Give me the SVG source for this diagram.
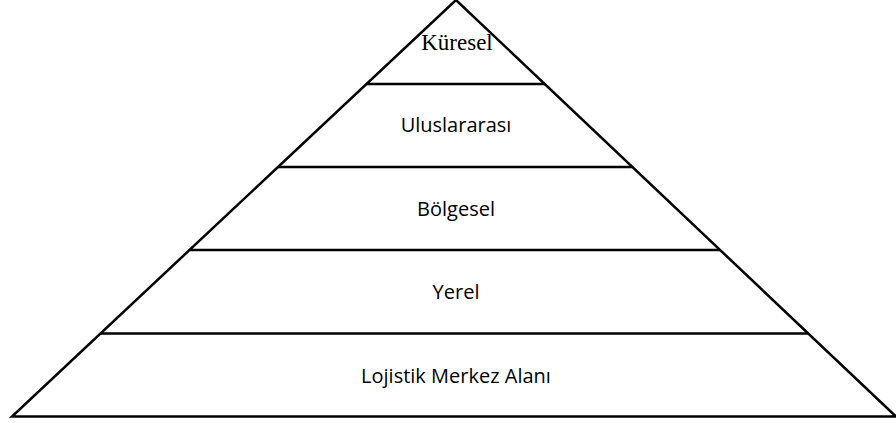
<svg xmlns="http://www.w3.org/2000/svg" width="896" height="423" viewBox="0 0 896 423">
<style>
.ln{stroke:#000;stroke-width:2.5;fill:none}
.lbl{font-family:"Open Sans","Liberation Sans",sans-serif;font-size:20px;fill:#000;text-anchor:middle}
.ser{font-family:"Liberation Serif","Times New Roman",serif;font-size:23px;fill:#000;text-anchor:middle}
</style>
<rect width="896" height="423" fill="#fff"/>
<g id="connectors">
<polygon class="ln" points="456,0 12,416.5 896,416.5"/>
<line class="ln" x1="366" y1="84" x2="545" y2="84"/>
<line class="ln" x1="278" y1="167" x2="632" y2="167"/>
<line class="ln" x1="190" y1="250" x2="720" y2="250"/>
<line class="ln" x1="101" y1="333.5" x2="808" y2="333.5"/>
</g>
<g id="kuresel"><text class="ser" x="457" y="50">Küresel</text></g>
<g id="uluslararasi"><text class="lbl" x="456" y="132">Uluslararası</text></g>
<g id="bolgesel"><text class="lbl" x="456" y="216">Bölgesel</text></g>
<g id="yerel"><text class="lbl" x="456" y="299">Yerel</text></g>
<g id="lojistik"><text class="lbl" x="456" y="383">Lojistik Merkez Alanı</text></g>
</svg>
